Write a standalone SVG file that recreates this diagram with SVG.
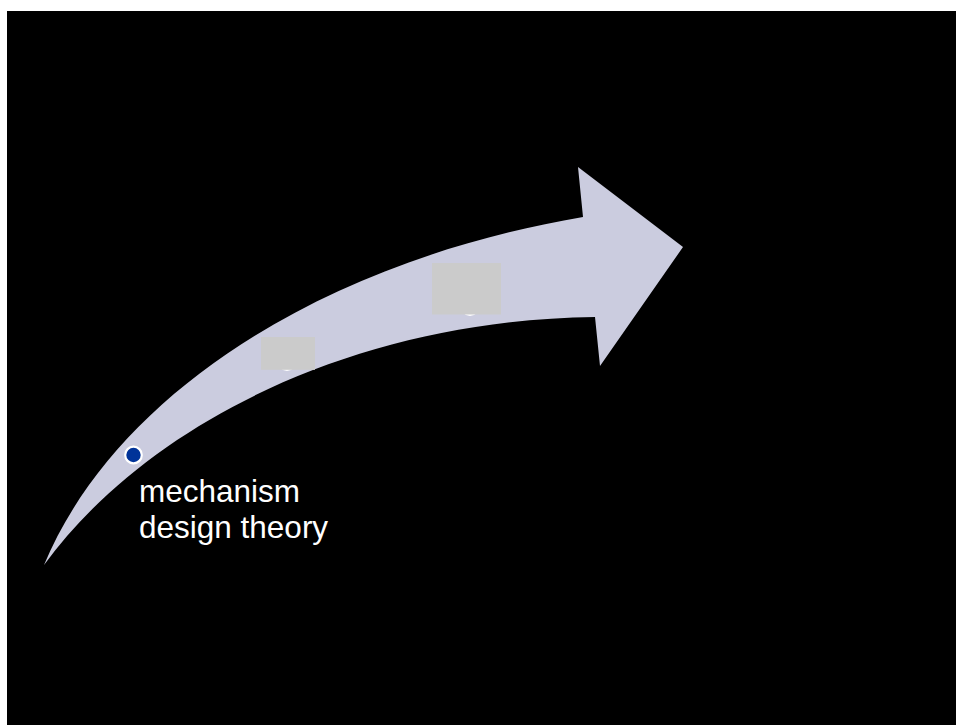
<svg xmlns="http://www.w3.org/2000/svg" width="956" height="725" viewBox="0 0 956 725">
  <style>
    .lbl { font-family: "Liberation Sans", Arial, sans-serif; font-size: 31.5px; fill: #FFFFFF; }
    .ph { fill: #CBCBCB; }
    .dot { fill: #003399; stroke: #FFFFFF; stroke-width: 2.2; }
  </style>
  <rect x="0" y="0" width="956" height="725" fill="#FFFFFF"/>
  <rect id="background" x="7" y="11" width="949" height="714" fill="#000000"/>
  <g id="arrow">
    <path fill="#CBCCDF" d="M44,565 C115,395 320,262 583,217 L578,167 L683,247 L600,366 L595,317 C360,320 150,420 44,565 Z"/>
  </g>
  <g id="node-hidden-2">
    <circle class="dot" cx="470" cy="306.5" r="8.3"/>
    <rect class="ph" x="432" y="263" width="69" height="51.5"/>
  </g>
  <g id="node-hidden-1">
    <circle class="dot" cx="287" cy="361.5" r="8.3"/>
    <rect class="ph" x="261" y="337" width="54" height="32.8"/>
  </g>
  <g id="node-mechanism">
    <circle class="dot" cx="133.5" cy="455" r="8.3"/>
    <text class="lbl" x="139" y="502">mechanism</text>
    <text class="lbl" x="139" y="538">design theory</text>
  </g>
</svg>
